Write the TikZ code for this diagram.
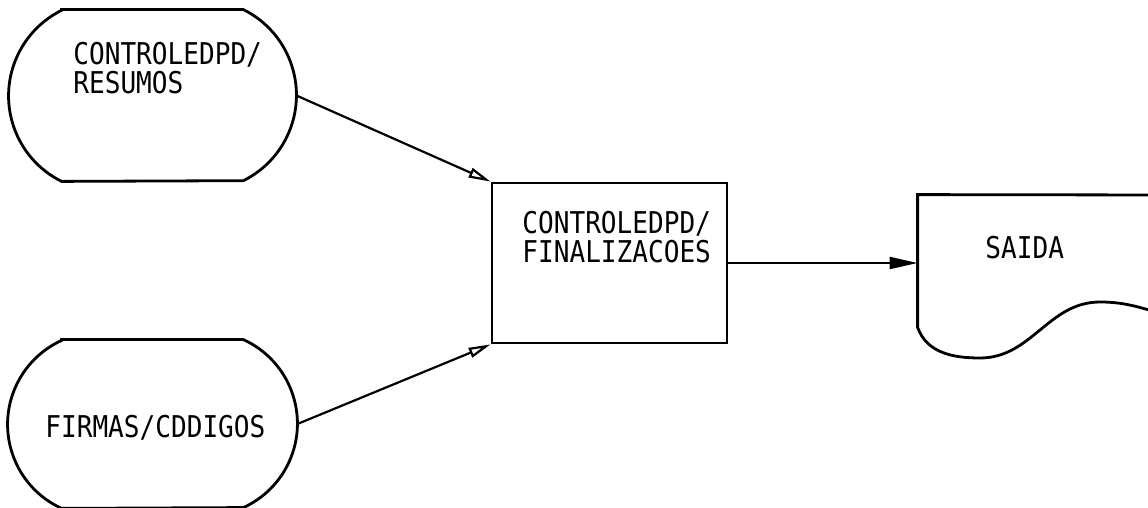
\documentclass[tikz,border=0pt]{standalone}
\usepackage{fontspec}
\newfontfamily\chartfont[FakeStretch=0.87]{DejaVu Sans Mono}
\usetikzlibrary{arrows.meta, positioning, calc}

\tikzset{
  shape line/.style={line width=1.4pt},
  flow/.style={line width=1.1pt},
  body/.style={draw=none, inner sep=0pt},
  label/.style={font=\chartfont\fontsize{15}{14.5}\selectfont, inner sep=0pt, align=left, anchor=west}
}
% terminal symbol drawn round a body node: name, arc angle, arc radius
\newcommand{\termshape}[3]{%
  \draw[shape line] (#1.north west) -- (#1.north east)
    arc[start angle=#2, end angle=-#2, radius=#3] -- (#1.south west)
    arc[start angle=180+#2, end angle=180-#2, radius=#3] -- cycle;}

\begin{document}
\begin{tikzpicture}[x=0.5pt, y=0.5pt]
\clip (0,0) rectangle (1148,-508);
% Inputs
\node[body, minimum width=90.5pt, minimum height=85.5pt] (resumos) at (152.5,-95.5) {};
\termshape{resumos}{63.6}{47.75pt}
\node[label] (resumostxt) at (73,-68.5) {CONTROLEDPD/\\RESUMOS};
\coordinate (resumosR) at ([xshift=26.5pt]resumos.east);

\node[body, minimum width=90.5pt, minimum height=84pt] (firmas) at (152.5,-424) {};
\termshape{firmas}{65.5}{46.15pt}
\node[label] (firmastxt) at (45,-428) {FIRMAS/CDDIGOS};
\coordinate (firmasR) at ([xshift=27pt]firmas.east);

% Process
\node[draw, shape line, minimum width=117.5pt, minimum height=80pt] (final) at (609.5,-263) {};
\node[label] (finaltxt) at (522,-237.5) {CONTROLEDPD/\\FINALIZACOES};

% Output document
\node[body, minimum width=115pt, minimum height=66pt] (saida) at (1033,-261) {};
\draw[shape line] (1170,-195) -- (saida.north west) -- (saida.south west)
  to[out=-70, in=180] (980,-358) to[out=0, in=180] (1100,-302) to[out=0, in=165] (1170,-316);
\node[label] (saidatxt) at (985,-248) {SAIDA};

% Connectors
\draw[flow, -{Triangle[open, length=11pt, width=5pt]}] (resumosR) -- (final.north west);
\draw[flow, -{Triangle[open, length=11pt, width=5pt]}] (firmasR) -- (final.south west);
\draw[flow, -{Triangle[length=14pt, width=6pt]}] (final.east) -- (final.east -| saida.west);
\end{tikzpicture}
\end{document}
